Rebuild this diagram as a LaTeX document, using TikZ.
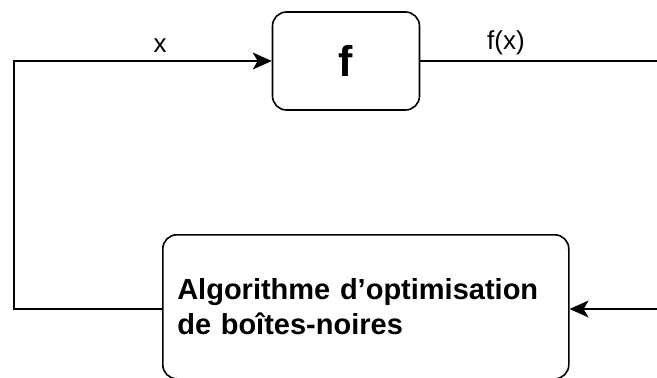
\documentclass[tikz,border=0pt]{standalone}
\usepackage{fontspec}
\setmainfont{Liberation Sans}
\usetikzlibrary{arrows.meta}
\begin{document}
\begin{tikzpicture}[x=1pt,y=-1pt,
  block/.style={draw, line width=1.6pt, rounded corners=14pt, inner sep=0pt},
  wire/.style={line width=1.6pt},
  arr/.style={wire, -{Stealth[length=19pt,width=17pt,inset=5pt]}},
  lbl/.style={font=\fontsize{26}{28}\selectfont, inner sep=0pt}]
  \useasboundingbox (0,0) rectangle (657,378);
  % function block
  \node[block, minimum width=147pt, minimum height=98pt, font=\bfseries\fontsize{43}{46}\selectfont]
    (f) at (346,61) {f};
  % optimiser block (runs past the lower edge)
  \node[block, minimum width=406pt, minimum height=144pt, anchor=north west,
        align=left, text width=395pt, font=\bfseries\fontsize{29}{35}\selectfont]
    (opt) at (162,234) {\hspace*{9pt}Algorithme d’optimisation\\\hspace*{9pt}de boîtes-noires};
  % loop points
  \coordinate (lc) at (14,61);
  \coordinate (lb) at (14,309);
  \coordinate (rt) at (660,61);
  \coordinate (rb) at (660,309);
  % feedback loop
  \draw[arr] (lb -| opt.west) -- (lb) -- (lc) -- (f.west);
  \draw[wire] (f.east) -- (rt);
  \draw[arr] (rb) -- (rb -| opt.east);
  % labels
  \node[lbl] (xl) at (160,46) {x};
  \node[lbl] (fxl) at (506,43) {f(x)};
\end{tikzpicture}
\end{document}
